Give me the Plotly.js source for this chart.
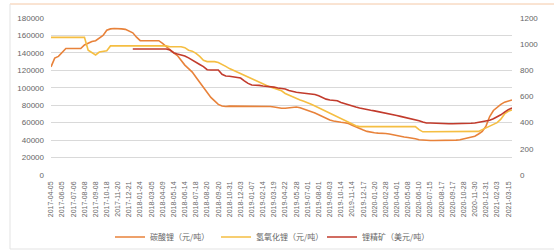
<!DOCTYPE html>
<html>
<head>
<meta charset="utf-8">
<script src="https://cdn.plot.ly/plotly-3.0.1.min.js"></script>
<style>html,body{margin:0;padding:0;background:#fff;}#chart{width:554px;height:251px;}</style>
</head>
<body>
<div id="chart"></div>
<script>
// Category dates (every third one is a labelled tick)
const dates = [
"2017-04-05","2017-04-25","2017-05-15","2017-06-05","2017-06-15","2017-06-26",
"2017-07-06","2017-07-17","2017-07-27","2017-08-08","2017-08-18","2017-08-29",
"2017-09-08","2017-09-21","2017-10-09","2017-10-18","2017-10-30","2017-11-09",
"2017-11-20","2017-11-30","2017-12-11","2017-12-21","2018-01-03","2018-01-12",
"2018-01-24","2018-02-05","2018-02-22","2018-03-05","2018-03-16","2018-03-28",
"2018-04-09","2018-04-20","2018-05-03","2018-05-14","2018-05-24","2018-06-04",
"2018-06-14","2018-06-26","2018-07-06","2018-07-18","2018-07-27","2018-08-08",
"2018-08-20","2018-08-30","2018-09-10","2018-09-20","2018-10-11","2018-10-22",
"2018-10-31","2018-11-12","2018-11-22","2018-12-03","2018-12-13","2018-12-25",
"2019-01-07","2019-01-17","2019-01-29","2019-02-14","2019-02-25","2019-03-07",
"2019-03-19","2019-03-29","2019-04-10","2019-04-22","2019-05-06","2019-05-16",
"2019-05-28","2019-06-10","2019-06-20","2019-07-01","2019-07-11","2019-07-22",
"2019-08-01","2019-08-12","2019-08-22","2019-09-03","2019-09-16","2019-09-30",
"2019-10-14","2019-10-24","2019-11-04","2019-11-14","2019-11-25","2019-12-05",
"2019-12-17","2019-12-27","2020-01-08","2020-01-20","2020-02-07","2020-02-18",
"2020-02-28","2020-03-11","2020-03-20","2020-04-01","2020-04-14","2020-04-24",
"2020-05-08","2020-05-19","2020-05-29","2020-06-10","2020-06-22","2020-07-03",
"2020-07-15","2020-07-27","2020-08-06","2020-08-17","2020-08-27","2020-09-07",
"2020-09-17","2020-09-29","2020-10-16","2020-10-28","2020-11-09","2020-11-19",
"2020-11-30","2020-12-10","2020-12-21","2020-12-31","2021-01-13","2021-01-25",
"2021-02-03","2021-02-19","2021-03-03","2021-03-15","2021-03-25"
];

const tickLabels = [
"2017-04-05","2017-06-05","2017-07-06","2017-08-08","2017-09-08","2017-10-18",
"2017-11-20","2017-12-21","2018-01-24","2018-03-05","2018-04-09","2018-05-14",
"2018-06-14","2018-07-18","2018-08-20","2018-09-20","2018-10-31","2018-12-03",
"2019-01-07","2019-02-14","2019-03-19","2019-04-22","2019-05-28","2019-07-01",
"2019-08-01","2019-09-03","2019-10-14","2019-11-14","2019-12-17","2020-01-20",
"2020-02-28","2020-04-01","2020-05-08","2020-06-10","2020-07-15","2020-08-17",
"2020-09-17","2020-10-28","2020-11-30","2020-12-31","2021-02-03","2021-03-15"
];

// 碳酸锂 (元/吨)
const carbonate = [
124000,134000,136000,140000,145000,145000,145000,145000,145000,149000,
151000,153000,154000,157000,160000,166000,167500,168000,168000,167500,
167000,165000,163000,158000,154000,154000,154000,154000,154000,154000,
151000,147000,143000,140000,137000,131000,126000,122000,118000,112000,
106000,100000,94000,89000,85000,81000,79000,78500,79000,79000,
79000,79000,79000,79000,79000,79000,79000,79000,79000,78500,
78000,77000,76500,76500,77000,78000,78000,77000,75500,74000,
73000,71000,69000,67000,65000,63000,62000,61000,60500,60000,
59000,57000,55000,53000,51500,50000,49000,48500,48000,48000,
47500,47000,46000,45500,44500,43500,43000,42500,41500,40500,
40000,39500,39500,39500,39500,39500,40000,40000,40000,40000,
40500,41500,42000,43000,44500,47000,50000,56000,67000,74000,
78000,81000,83500,85000,86000
];

// 氢氧化锂 (元/吨)
const hydroxide = [
157800,157800,157800,157800,157800,157800,157800,157800,157800,157800,
143000,140000,137600,141000,142000,142500,148000,148000,148000,148000,
148000,148000,148000,148000,148000,148000,148000,148000,148000,148000,
148000,148000,147000,147000,147000,147000,146000,143000,142000,139500,
136000,131500,130000,130000,130000,129000,127000,124500,122000,120000,
118000,116000,114000,112000,110000,108000,106000,104000,102500,101000,
99500,98000,96500,93500,91500,90000,88000,86000,84500,83000,
81000,79000,77000,75000,73000,71000,69000,67000,65000,63000,
61000,59000,56500,55500,55500,55500,55500,55500,55500,55500,
55500,55500,55500,55500,55500,55500,55500,55500,55500,52000,
49500,49500,49500,49500,49500,49500,49500,49500,49500,49500,
49500,49500,49500,49500,49500,50000,52000,54000,56000,58000,
60000,64000,70000,73000,74500
];

// 锂精矿 (美元/吨), right axis
const spodumene = [
null,null,null,null,null,null,null,null,null,null,
null,null,null,null,null,null,null,null,null,null,
null,null,963,963,963,963,963,963,963,963,
963,963,955,935,925,917,910,895,880,866,
845,828,805,802,802,802,770,757,755,750,
745,741,720,700,688,688,685,680,678,675,
672,665,660,657,645,637,632,629,625,622,
620,615,605,592,580,573,570,568,555,545,
535,528,520,512,505,497,495,490,485,480,
475,470,462,455,448,442,436,430,422,415,
405,398,397,395,393,392,392,392,392,392,
392,392,392,395,398,402,405,410,418,430,
443,460,480,500,512
];

const leftTicks = [0,20000,40000,60000,80000,100000,120000,140000,160000,180000];
const rightTicks = [0,200,400,600,800,1000,1200];

const seriesNames = ["碳酸锂（元/吨）","氢氧化锂（元/吨）","锂精矿（美元/吨）"];

// Layout geometry (pixels)
const W = 554, H = 251;
const L = 51, R = 512, T = 18, B = 175;
const px = v => (v - L) / (R - L);
const py = v => (B - v) / (B - T);

const tickFont = {family: "Liberation Sans, Arial, sans-serif", size: 8, color: "#666666"};

const traces = [
  {x: dates, y: carbonate, name: seriesNames[0], type: "scatter", mode: "lines",
   line: {color: "#E8823A", width: 1.6}, yaxis: "y"},
  {x: dates, y: hydroxide, name: seriesNames[1], type: "scatter", mode: "lines",
   line: {color: "#F5BE42", width: 1.6}, yaxis: "y"},
  {x: dates, y: spodumene, name: seriesNames[2], type: "scatter", mode: "lines",
   line: {color: "#C23B2C", width: 1.6}, yaxis: "y2", connectgaps: false}
];

const layout = {
  width: W, height: H,
  margin: {l: L, r: W - R, t: T, b: H - B, pad: 0, autoexpand: false},
  paper_bgcolor: "#ffffff",
  plot_bgcolor: "#ffffff",
  showlegend: true,
  xaxis: {
    type: "category",
    range: [0, dates.length - 1],
    tickmode: "array",
    tickvals: tickLabels,
    ticktext: tickLabels,
    tickangle: -90,
    tickfont: {family: "Liberation Sans, Arial, sans-serif", size: 7, color: "#666666"},
    showgrid: false,
    zeroline: false,
    showline: false,
    ticks: "",
    automargin: false,
    ticklabelstandoff: 4
  },
  yaxis: {
    range: [0, 180000],
    tickmode: "array",
    tickvals: leftTicks,
    ticktext: leftTicks.map(String),
    tickfont: tickFont,
    showgrid: true,
    gridcolor: "#D9D9D9",
    gridwidth: 1,
    zeroline: false,
    showline: false,
    ticks: "",
    automargin: false,
    ticklabelstandoff: 6
  },
  yaxis2: {
    overlaying: "y",
    side: "right",
    range: [0, 1200],
    tickmode: "array",
    tickvals: rightTicks,
    ticktext: rightTicks.map(String),
    tickfont: tickFont,
    showgrid: false,
    zeroline: false,
    showline: false,
    ticks: "",
    automargin: false,
    ticklabelstandoff: 7
  },
  legend: {
    orientation: "h",
    x: px(110), xanchor: "left",
    y: py(237), yanchor: "middle",
    font: {family: "Noto Sans CJK SC, sans-serif", size: 8, color: "#666666"},
    entrywidth: 61, entrywidthmode: "pixels",
    itemwidth: 30,
    bgcolor: "rgba(0,0,0,0)",
    traceorder: "normal"
  },
  shapes: [
    {type: "line", xref: "paper", yref: "paper", x0: px(10), x1: px(554), y0: py(4), y1: py(4),
     line: {color: "#F4C8A6", width: 1}},
    {type: "line", xref: "paper", yref: "paper", x0: px(10), x1: px(10), y0: py(4), y1: py(249),
     line: {color: "#E3E3E3", width: 1}},
    {type: "line", xref: "paper", yref: "paper", x0: px(10), x1: px(554), y0: py(249), y1: py(249),
     line: {color: "#E3E3E3", width: 1}}
  ]
};

Plotly.newPlot("chart", traces, layout, {displayModeBar: false, staticPlot: true});
</script>
</body>
</html>
